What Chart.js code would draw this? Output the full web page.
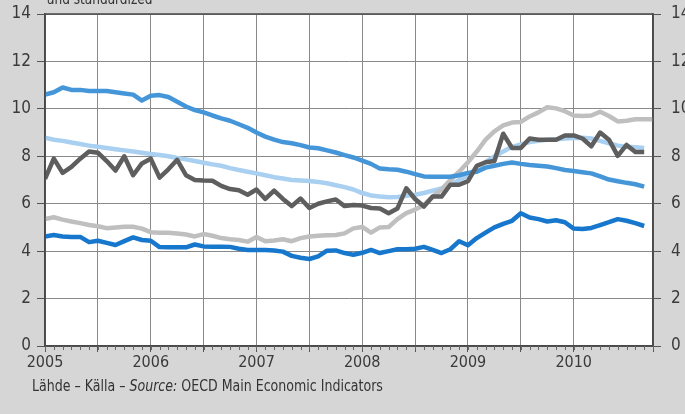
<!DOCTYPE html>
<html><head><meta charset="utf-8">
<script src="https://cdn.jsdelivr.net/npm/chart.js@4.4.1/dist/chart.umd.min.js"></script>
<style>
html,body{margin:0;padding:0;background:#d6d6d6;overflow:hidden}
canvas{display:block}
</style></head>
<body>
<canvas id="c" width="685" height="414"></canvas>
<script>
// Categories: monthly points starting Jan 2005 (index 0 = Jan 2005)
const startYear = 2005;
const yearLabels = ['2005','2006','2007','2008','2009','2010'];
const yTickValues = [0, 2, 4, 6, 8, 10, 12, 14];

const medBlue = [10.6,10.7,10.9,10.8,10.8,10.75,10.75,10.75,10.7,10.65,10.6,10.35,10.55,
  10.58,10.5,10.3,10.1,9.95,9.85,9.72,9.6,9.5,9.35,9.2,9.0,
  8.83,8.7,8.6,8.55,8.47,8.37,8.34,8.25,8.16,8.05,7.95,7.82,
  7.68,7.48,7.45,7.43,7.35,7.25,7.15,7.14,7.14,7.14,7.2,7.3,
  7.35,7.52,7.6,7.68,7.74,7.68,7.63,7.6,7.57,7.5,7.42,7.38,
  7.33,7.28,7.15,7.02,6.95,6.88,6.82,6.72];

const lightBlue = [8.78,8.7,8.65,8.58,8.52,8.45,8.4,8.35,8.3,8.25,8.2,8.15,8.1,
  8.05,8.0,7.93,7.87,7.8,7.73,7.66,7.6,7.5,7.42,7.35,7.28,
  7.2,7.12,7.06,7.0,6.98,6.96,6.92,6.86,6.78,6.7,6.6,6.45,
  6.35,6.3,6.27,6.28,6.33,6.38,6.45,6.55,6.65,6.8,7.0,7.2,
  7.5,7.75,8.0,8.2,8.4,8.5,8.6,8.65,8.7,8.72,8.75,8.77,
  8.78,8.75,8.65,8.55,8.45,8.4,8.38,8.35];

const darkGrey = [7.05,7.9,7.3,7.55,7.9,8.2,8.15,7.8,7.4,8.0,7.2,7.7,7.9,
  7.1,7.45,7.85,7.2,7.0,6.98,6.97,6.75,6.62,6.57,6.38,6.6,
  6.2,6.55,6.2,5.9,6.22,5.82,6.0,6.1,6.18,5.9,5.95,5.92,
  5.82,5.8,5.6,5.8,6.65,6.2,5.88,6.3,6.3,6.8,6.8,6.95,
  7.6,7.75,7.8,8.95,8.35,8.35,8.75,8.7,8.7,8.7,8.88,8.88,
  8.75,8.42,9.0,8.7,8.02,8.48,8.18,8.18];

const lightGrey = [5.35,5.43,5.33,5.25,5.18,5.1,5.05,4.97,5.0,5.03,5.03,4.95,4.8,
  4.78,4.78,4.74,4.7,4.62,4.72,4.65,4.55,4.5,4.47,4.4,4.6,
  4.42,4.45,4.5,4.42,4.55,4.62,4.65,4.67,4.68,4.75,4.96,5.02,
  4.78,5.0,5.02,5.35,5.6,5.75,5.95,6.3,6.6,7.0,7.35,7.75,
  8.2,8.7,9.05,9.3,9.42,9.45,9.68,9.85,10.07,10.02,9.9,9.72,
  9.7,9.72,9.88,9.7,9.47,9.5,9.56,9.56,9.56];

const darkBlue = [4.62,4.68,4.62,4.6,4.6,4.38,4.44,4.35,4.26,4.42,4.58,4.47,4.44,
  4.17,4.16,4.16,4.16,4.28,4.2,4.19,4.19,4.18,4.1,4.05,4.05,
  4.05,4.03,3.98,3.8,3.72,3.67,3.78,4.02,4.03,3.92,3.85,3.93,
  4.05,3.92,4.0,4.08,4.08,4.1,4.18,4.05,3.92,4.08,4.42,4.25,
  4.55,4.78,5.0,5.15,5.28,5.6,5.42,5.35,5.25,5.3,5.22,4.95,
  4.93,4.98,5.1,5.22,5.35,5.28,5.18,5.06];

const subtitleText = 'and standardized';
const sourceParts = [['Lähde – Källa – ', false], ['Source:', true], [' OECD Main Economic Indicators', false]];

const FONT = "'Liberation Sans Narrow','DejaVu Sans Condensed','Roboto Condensed',sans-serif";
const toPts = arr => arr.map((v, i) => ({x: i, y: v}));

const decor = {
  id: 'decor',
  beforeDraw(chart) {
    const {ctx, chartArea: a} = chart;
    ctx.save();
    ctx.fillStyle = '#ffffff';
    ctx.fillRect(a.left, a.top, a.right - a.left, a.bottom - a.top);
    ctx.restore();
  },
  afterDraw(chart) {
    const {ctx, chartArea: a, scales} = chart;
    const xs = scales.x;
    ctx.save();
    ctx.strokeStyle = '#4a4a4a';
    ctx.lineWidth = 1.5;
    ctx.strokeRect(a.left, a.top, a.right - a.left, a.bottom - a.top);
    // monthly minor ticks below the axis
    ctx.lineWidth = 1;
    ctx.strokeStyle = '#666';
    for (let m = 0; m <= 69; m++) {
      const px = Math.round(xs.getPixelForValue(m)) + 0.5;
      ctx.beginPath();
      ctx.moveTo(px, a.bottom);
      ctx.lineTo(px, a.bottom + 4);
      ctx.stroke();
    }
    // clipped subtitle at the top
    ctx.fillStyle = '#333';
    ctx.save();
    ctx.translate(47, 4);
    ctx.scale(0.9, 1);
    ctx.font = '15px ' + FONT;
    ctx.textBaseline = 'alphabetic';
    ctx.fillText(subtitleText, 0, 0);
    ctx.restore();
    // source line
    ctx.save();
    ctx.translate(32, 391);
    ctx.scale(0.875, 1);
    let x = 0;
    for (const [t, it] of sourceParts) {
      ctx.font = (it ? 'italic ' : '') + '16px ' + FONT;
      ctx.fillText(t, x, 0);
      x += ctx.measureText(t).width;
    }
    ctx.restore();
    ctx.restore();
  }
};

const lineDs = (label, data, color) => ({
  label, data: toPts(data), borderColor: color, backgroundColor: color,
  borderWidth: 4.5, pointRadius: 0, tension: 0, fill: false,
  borderJoinStyle: 'round', borderCapStyle: 'butt'
});

const fitY = w => s => { s.width = w; s.paddingTop = 14; s.paddingBottom = 0; };

new Chart(document.getElementById('c'), {
  type: 'line',
  data: {
    datasets: [
      lineDs('darkGrey', darkGrey, '#5e5e5e'),
      lineDs('medBlue', medBlue, '#4596d8'),
      lineDs('darkBlue', darkBlue, '#1677cc'),
      lineDs('lightGrey', lightGrey, '#bfbfbf'),
      lineDs('lightBlue', lightBlue, '#a9d0f0')
    ]
  },
  options: {
    responsive: false,
    devicePixelRatio: 1,
    animation: false,
    layout: {padding: 0},
    plugins: {legend: {display: false}, tooltip: {enabled: false}},
    scales: {
      x: {
        type: 'linear', min: 0, max: 69, position: 'bottom',
        afterFit: s => { s.height = 68; s.paddingLeft = 0; s.paddingRight = 0; },
        grid: {color: '#8a8a8a', lineWidth: 1, tickLength: 6, tickColor: '#555'},
        border: {display: true, color: '#4a4a4a', width: 1.5},
        ticks: {
          stepSize: 6, autoSkip: false, maxRotation: 0, padding: 1,
          color: '#3a3a3a', font: {family: FONT, size: 16},
          callback: v => (v % 12 === 0 && yearLabels[v / 12]) ? yearLabels[v / 12] : ''
        }
      },
      y: {
        type: 'linear', min: 0, max: 14, position: 'left',
        afterFit: fitY(45),
        afterBuildTicks: s => { s.ticks = yTickValues.map(v => ({value: v})); },
        grid: {color: '#8a8a8a', lineWidth: 1, tickLength: 8, tickColor: '#555'},
        border: {display: true, color: '#4a4a4a', width: 1.5},
        ticks: {padding: 6, color: '#3a3a3a', font: {family: FONT, size: 17}}
      },
      y2: {
        type: 'linear', min: 0, max: 14, position: 'right',
        afterFit: fitY(32),
        afterBuildTicks: s => { s.ticks = yTickValues.map(v => ({value: v})); },
        grid: {drawOnChartArea: false, color: '#555', tickLength: 8},
        border: {display: true, color: '#4a4a4a', width: 1.5},
        ticks: {padding: 10, color: '#3a3a3a', font: {family: FONT, size: 17}}
      }
    }
  },
  plugins: [decor]
});
</script>
</body></html>
